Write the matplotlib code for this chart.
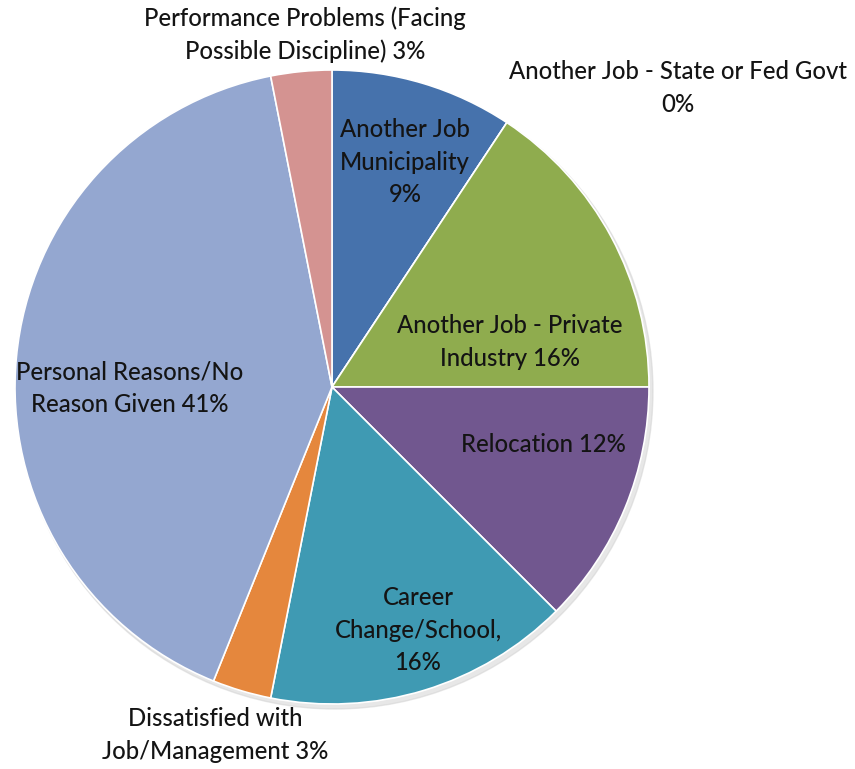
import matplotlib.pyplot as plt

# reasons for leaving, percent of total (clockwise from 12 o'clock)
categories = ["Another Job\nMunicipality", "Another Job - State or Fed Govt",
              "Another Job - Private\nIndustry", "Relocation",
              "Career\nChange/School,", "Dissatisfied with\nJob/Management",
              "Personal Reasons/No\nReason Given", "Performance Problems (Facing\nPossible Discipline)"]
values = [9.3, 0.0, 15.7, 12.5, 15.6, 3.0, 40.8, 3.1]
pct_sep = ["\n", "\n", " ", " ", "\n", " ", " ", " "]

colors = ["#4672AC", "#4F81BD", "#8FAC4E", "#71578F", "#3F9AB3", "#E5873D", "#94A7D0", "#D49391"]

W, H = 855, 769
fig = plt.figure(figsize=(W / 100, H / 100), dpi=100)
ax = fig.add_axes([0, 0, 1, 1])

cx, cy, r = 332, H - 387, 317

# faint drop shadow
shadow = plt.Circle((cx + 3, cy - 4), r + 1, color="#d0d0d0", alpha=0.5, zorder=0)
ax.add_patch(shadow)

wedges, _ = ax.pie(values, colors=colors, startangle=90, counterclock=False,
                   center=(cx, cy), radius=r, frame=True,
                   wedgeprops=dict(edgecolor="white", linewidth=1.2))
ax.set_xlim(0, W)
ax.set_ylim(0, H)
ax.axis("off")

# label positions in pixels (x, y from top)
label_pos = [(405, 162), (678, 88), (510, 342), (543, 445),
             (418, 630), (215, 735), (130, 388), (305, 35)]

for name, v, sep, (lx, ly) in zip(categories, values, pct_sep, label_pos):
    txt = f"{name}{sep}{round(v):d}%"
    ax.text(lx, H - ly, txt, ha="center", va="center", fontsize=17.2,
            family="Lato", weight="medium", color="#141414", linespacing=1.5, zorder=5)

fig.savefig("out.png", dpi=100)
